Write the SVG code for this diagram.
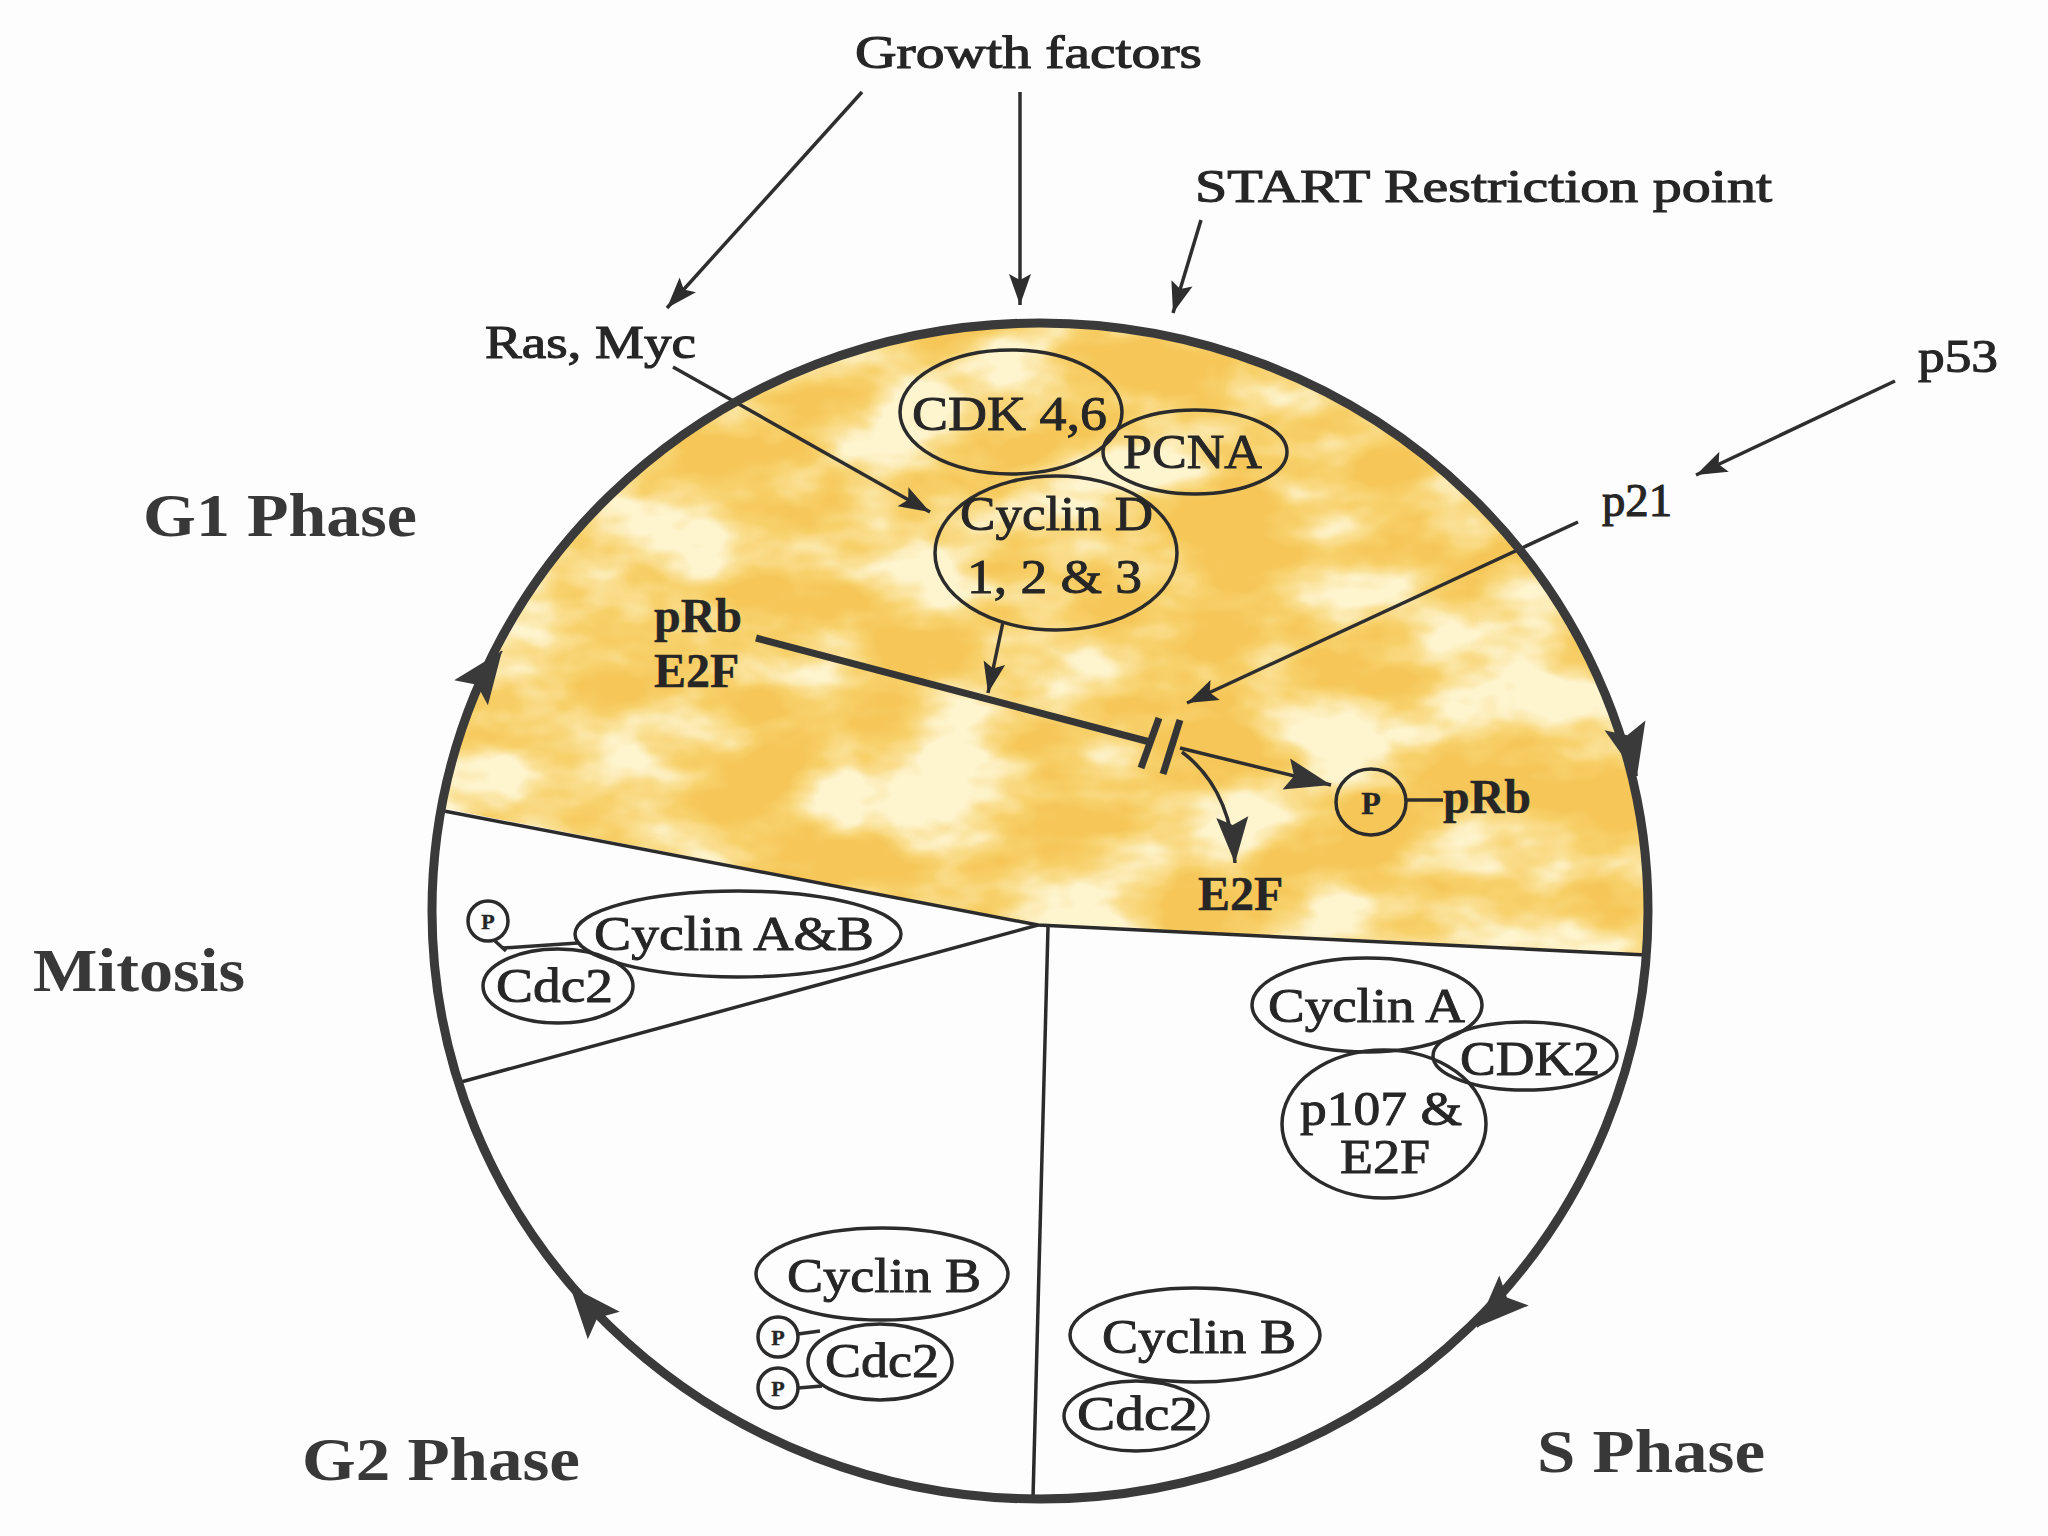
<svg xmlns="http://www.w3.org/2000/svg" width="2048" height="1536" viewBox="0 0 2048 1536">
<style>
.t{font-family:"Liberation Serif","Times New Roman",serif;fill:#262626;stroke:#262626;stroke-width:0.9}
.b{font-weight:bold;stroke-width:0.4}
.ph{font-family:"Liberation Serif","Times New Roman",serif;font-weight:bold;font-size:62px;fill:#383838}
.lab{font-size:46px;stroke-width:1.1}
.in{font-size:48px}
.ov{fill:none;stroke:#2b2b2b;stroke-width:3.5}
.ln{fill:none;stroke:#2e2e2e;stroke-width:3.5}
.thick{fill:none;stroke:#353535;stroke-width:7}
.div{fill:none;stroke:#2b2b2b;stroke-width:3.5}
</style>
<defs>
<marker id="ah" viewBox="-32 -12 34 24" refX="0" refY="0" markerWidth="34" markerHeight="24" markerUnits="userSpaceOnUse" orient="auto">
<path d="M0,0 L-31,-11 L-25,0 L-31,11 Z" fill="#2e2e2e"/>
</marker>
<marker id="am" viewBox="-46 -17 48 34" refX="0" refY="0" markerWidth="48" markerHeight="34" markerUnits="userSpaceOnUse" orient="auto">
<path d="M0,0 L-46,-16 L-38,0 L-46,16 Z" fill="#353535"/>
</marker>
<marker id="ab" viewBox="-54 -23 56 46" refX="0" refY="0" markerWidth="56" markerHeight="46" markerUnits="userSpaceOnUse" orient="auto">
<path d="M0,0 L-52,-21 L-42,0 L-52,21 Z" fill="#3a3a3a"/>
</marker>
<clipPath id="cell"><ellipse cx="1040" cy="911" rx="605" ry="584"/></clipPath>
<filter id="mottle" filterUnits="userSpaceOnUse" x="400" y="300" width="1300" height="700">
<feTurbulence type="fractalNoise" baseFrequency="0.007 0.012" numOctaves="4" seed="11" result="n"/>
<feColorMatrix in="n" type="matrix" values="3 0 0 0 -1.05  3 0 0 0 -1.05  3 0 0 0 -1.05  0 0 0 0 1" result="g"/>
<feComponentTransfer in="g" result="c">
<feFuncR type="table" tableValues="0.92 0.94 0.96 0.99"/>
<feFuncG type="table" tableValues="0.57 0.64 0.75 0.91"/>
<feFuncB type="table" tableValues="0.10 0.15 0.30 0.62"/>
</feComponentTransfer>
<feComposite in="c" in2="SourceGraphic" operator="in"/>
</filter>
</defs>

<rect width="2048" height="1536" fill="#fdfdfd"/>

<g id="g1-region" clip-path="url(#cell)">
<path d="M380,796 L1038,925 L1700,958 L1700,280 L380,280 Z" fill="#000" filter="url(#mottle)"/>
</g>

<g id="dividers">
<path class="div" d="M444,811 L1038,925 L1646,955"/>
<path class="div" d="M1038,925 L461,1082"/>
<path class="div" d="M1048,927 L1033,1498"/>
</g>

<g id="label-growth-factors"><text class="t lab" x="855" y="68" textLength="347" lengthAdjust="spacingAndGlyphs">Growth factors</text></g>
<g id="label-start"><text class="t lab" x="1195" y="202" textLength="577" lengthAdjust="spacingAndGlyphs">START Restriction point</text></g>
<g id="label-ras-myc"><text class="t lab" x="485" y="358" textLength="211" lengthAdjust="spacingAndGlyphs">Ras, Myc</text></g>
<g id="label-p53"><text class="t lab" x="1918" y="372" textLength="80" lengthAdjust="spacingAndGlyphs">p53</text></g>
<g id="label-p21"><text class="t lab" x="1602" y="516" textLength="70" lengthAdjust="spacingAndGlyphs">p21</text></g>

<g id="phase-g1"><text class="ph" x="143" y="536" textLength="274" lengthAdjust="spacingAndGlyphs">G1 Phase</text></g>
<g id="phase-mitosis"><text class="ph" x="33" y="991" textLength="212" lengthAdjust="spacingAndGlyphs">Mitosis</text></g>
<g id="phase-g2"><text class="ph" x="302" y="1480" textLength="278" lengthAdjust="spacingAndGlyphs">G2 Phase</text></g>
<g id="phase-s"><text class="ph" x="1537" y="1472" textLength="228" lengthAdjust="spacingAndGlyphs">S Phase</text></g>

<g id="node-cdk46"><ellipse class="ov" cx="1011" cy="412" rx="111" ry="62"/><text class="t in" x="912" y="430" textLength="195" lengthAdjust="spacingAndGlyphs">CDK 4,6</text></g>
<g id="node-pcna"><ellipse class="ov" cx="1195" cy="452" rx="92" ry="42"/><text class="t in" x="1123" y="468" textLength="139" lengthAdjust="spacingAndGlyphs">PCNA</text></g>
<g id="node-cyclin-d"><ellipse class="ov" cx="1056" cy="553" rx="121" ry="77"/><text class="t in" x="960" y="530" textLength="193" lengthAdjust="spacingAndGlyphs">Cyclin D</text><text class="t in" x="967" y="593" textLength="175" lengthAdjust="spacingAndGlyphs">1, 2 &amp; 3</text></g>

<g id="node-prb-e2f"><text class="t b in" x="654" y="632">pRb</text><text class="t b in" x="654" y="687">E2F</text></g>
<g id="node-e2f-free"><text class="t b in" x="1198" y="910">E2F</text></g>
<g id="node-p-prb"><ellipse class="ov" cx="1371" cy="802" rx="35" ry="33"/><text class="t b" x="1371" y="814" font-size="32" text-anchor="middle">P</text><line class="ln" x1="1406" y1="800" x2="1443" y2="800"/><text class="t b in" x="1443" y="813">pRb</text></g>

<g id="node-mitosis-complex">
<line class="ln" x1="495" y1="941" x2="506" y2="951"/>
<line class="ln" x1="503" y1="948" x2="578" y2="943"/>
<circle class="ov" cx="488" cy="921" r="20"/><text class="t b" x="488" y="929" font-size="22" text-anchor="middle">P</text>
<ellipse class="ov" cx="738" cy="934" rx="163" ry="43"/><text class="t in" x="594" y="950" textLength="280" lengthAdjust="spacingAndGlyphs">Cyclin A&amp;B</text>
<ellipse class="ov" cx="558" cy="986" rx="75" ry="37"/><text class="t in" x="496" y="1002" textLength="117" lengthAdjust="spacingAndGlyphs">Cdc2</text>
</g>

<g id="node-s-complex">
<ellipse class="ov" cx="1367" cy="1005" rx="115" ry="47"/><text class="t in" x="1268" y="1022" textLength="197" lengthAdjust="spacingAndGlyphs">Cyclin A</text>
<ellipse class="ov" cx="1525" cy="1056" rx="92" ry="34"/><text class="t in" x="1460" y="1075" textLength="140" lengthAdjust="spacingAndGlyphs">CDK2</text>
<ellipse class="ov" cx="1384" cy="1124" rx="102" ry="74"/><text class="t in" x="1300" y="1125" textLength="162" lengthAdjust="spacingAndGlyphs">p107 &amp;</text><text class="t in" x="1340" y="1173" textLength="90" lengthAdjust="spacingAndGlyphs">E2F</text>
</g>

<g id="node-g2-complex">
<line class="ln" x1="798" y1="1334" x2="820" y2="1331"/>
<line class="ln" x1="798" y1="1388" x2="822" y2="1386"/>
<ellipse class="ov" cx="882" cy="1274" rx="126" ry="46"/><text class="t in" x="787" y="1292" textLength="194" lengthAdjust="spacingAndGlyphs">Cyclin B</text>
<ellipse class="ov" cx="880" cy="1362" rx="72" ry="38"/><text class="t in" x="825" y="1377" textLength="114" lengthAdjust="spacingAndGlyphs">Cdc2</text>
<circle class="ov" cx="778" cy="1337" r="20"/><text class="t b" x="778" y="1345" font-size="22" text-anchor="middle">P</text>
<circle class="ov" cx="778" cy="1388" r="20"/><text class="t b" x="778" y="1396" font-size="22" text-anchor="middle">P</text>
</g>

<g id="node-s-late-complex">
<ellipse class="ov" cx="1195" cy="1335" rx="125" ry="47"/><text class="t in" x="1102" y="1353" textLength="194" lengthAdjust="spacingAndGlyphs">Cyclin B</text>
<ellipse class="ov" cx="1136" cy="1416" rx="72" ry="35"/><text class="t in" x="1077" y="1430" textLength="121" lengthAdjust="spacingAndGlyphs">Cdc2</text>
</g>

<g id="connectors">
<line class="ln" x1="862" y1="92" x2="667" y2="308" marker-end="url(#ah)"/>
<line class="ln" x1="1020" y1="92" x2="1020" y2="305" marker-end="url(#ah)"/>
<line class="ln" x1="1201" y1="220" x2="1173" y2="313" marker-end="url(#ah)"/>
<line class="ln" x1="673" y1="367" x2="930" y2="512" marker-end="url(#ah)"/>
<line class="ln" x1="1895" y1="381" x2="1696" y2="475" marker-end="url(#ah)"/>
<line class="ln" x1="1578" y1="522" x2="1187" y2="703" marker-end="url(#ah)"/>
<line class="ln" x1="1003" y1="622" x2="988" y2="693" marker-end="url(#ah)"/>
<line class="thick" x1="756" y1="638" x2="1150" y2="742"/>
<line class="thick" x1="1159" y1="718" x2="1141" y2="768"/>
<line class="thick" x1="1180" y1="720" x2="1163" y2="774"/>
<line class="ln" x1="1180" y1="748" x2="1331" y2="785" stroke-width="6" marker-end="url(#am)"/>
<path class="ln" d="M1182,752 C1214,776 1232,812 1235,863" stroke-width="5" marker-end="url(#am)"/>
</g>

<g id="cycle">
<ellipse cx="1040" cy="911" rx="608" ry="588" fill="none" stroke="#3a3a3a" stroke-width="9"/>
<line x1="495.4" y1="659.9" x2="502" y2="651" stroke="#3a3a3a" stroke-width="2" marker-end="url(#ab)"/>
<line x1="1634.7" y1="766.3" x2="1637" y2="776" stroke="#3a3a3a" stroke-width="2" marker-end="url(#ab)"/>
<line x1="1484.1" y1="1320" x2="1477" y2="1327" stroke="#3a3a3a" stroke-width="2" marker-end="url(#ab)"/>
<line x1="576.5" y1="1293.6" x2="570" y2="1286" stroke="#3a3a3a" stroke-width="2" marker-end="url(#ab)"/>
</g>
</svg>
